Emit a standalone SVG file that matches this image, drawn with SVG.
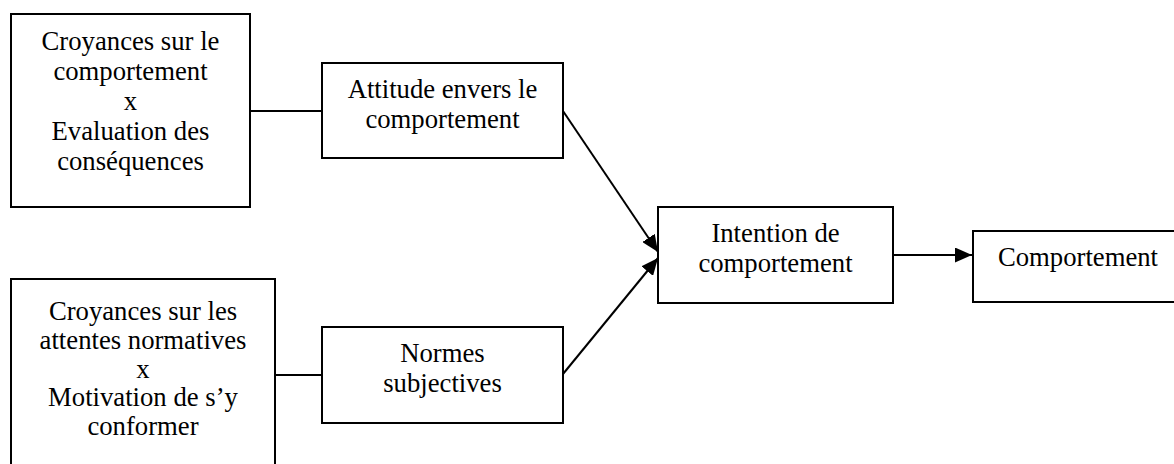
<svg xmlns="http://www.w3.org/2000/svg" width="1174" height="464" viewBox="0 0 1174 464">
<style>
.box{fill:#fff;stroke:#000;stroke-width:2}
.t{font-family:"Liberation Serif","Times New Roman",serif;font-size:26.7px;fill:#000;text-anchor:middle}
.c{stroke:#000;stroke-width:2;fill:none}
</style>
<defs>
<marker id="ah" markerUnits="userSpaceOnUse" markerWidth="18" markerHeight="15" refX="17" refY="7.5" orient="auto">
<path d="M0,0 L17,7.5 L0,15 z" fill="#000"/>
</marker>
</defs>
<rect width="1174" height="464" fill="#fff"/>
<g id="connectors">
<line class="c" x1="250" y1="111" x2="322" y2="111"/>
<line class="c" x1="275" y1="375" x2="322" y2="375"/>
<line class="c" x1="563" y1="111" x2="658" y2="252" marker-end="url(#ah)"/>
<line class="c" x1="563" y1="374" x2="658" y2="258" marker-end="url(#ah)"/>
<line class="c" x1="893" y1="255" x2="972" y2="255" marker-end="url(#ah)"/>
</g>
<g id="croyances-comportement">
<rect class="box" x="11" y="14" width="239" height="193"/>
<text class="t" x="130.5" y="50">Croyances sur le</text>
<text class="t" x="130.5" y="80">comportement</text>
<text class="t" x="130.5" y="110">x</text>
<text class="t" x="130.5" y="140">Evaluation des</text>
<text class="t" x="130.5" y="170">conséquences</text>
</g>
<g id="croyances-normatives">
<rect class="box" x="11" y="279" width="264" height="200"/>
<text class="t" x="143" y="320">Croyances sur les</text>
<text class="t" x="143" y="349">attentes normatives</text>
<text class="t" x="143" y="378">x</text>
<text class="t" x="143" y="406">Motivation de s’y</text>
<text class="t" x="143" y="435">conformer</text>
</g>
<g id="attitude">
<rect class="box" x="322" y="63" width="241" height="95"/>
<text class="t" x="442.5" y="98">Attitude envers le</text>
<text class="t" x="442.5" y="128">comportement</text>
</g>
<g id="normes">
<rect class="box" x="322" y="327" width="241" height="96"/>
<text class="t" x="442.5" y="362">Normes</text>
<text class="t" x="442.5" y="392">subjectives</text>
</g>
<g id="intention">
<rect class="box" x="658" y="207" width="235" height="96"/>
<text class="t" x="775.5" y="242">Intention de</text>
<text class="t" x="775.5" y="272">comportement</text>
</g>
<g id="comportement">
<rect class="box" x="973" y="231" width="211" height="71"/>
<text class="t" x="1078" y="266">Comportement</text>
</g>
</svg>
